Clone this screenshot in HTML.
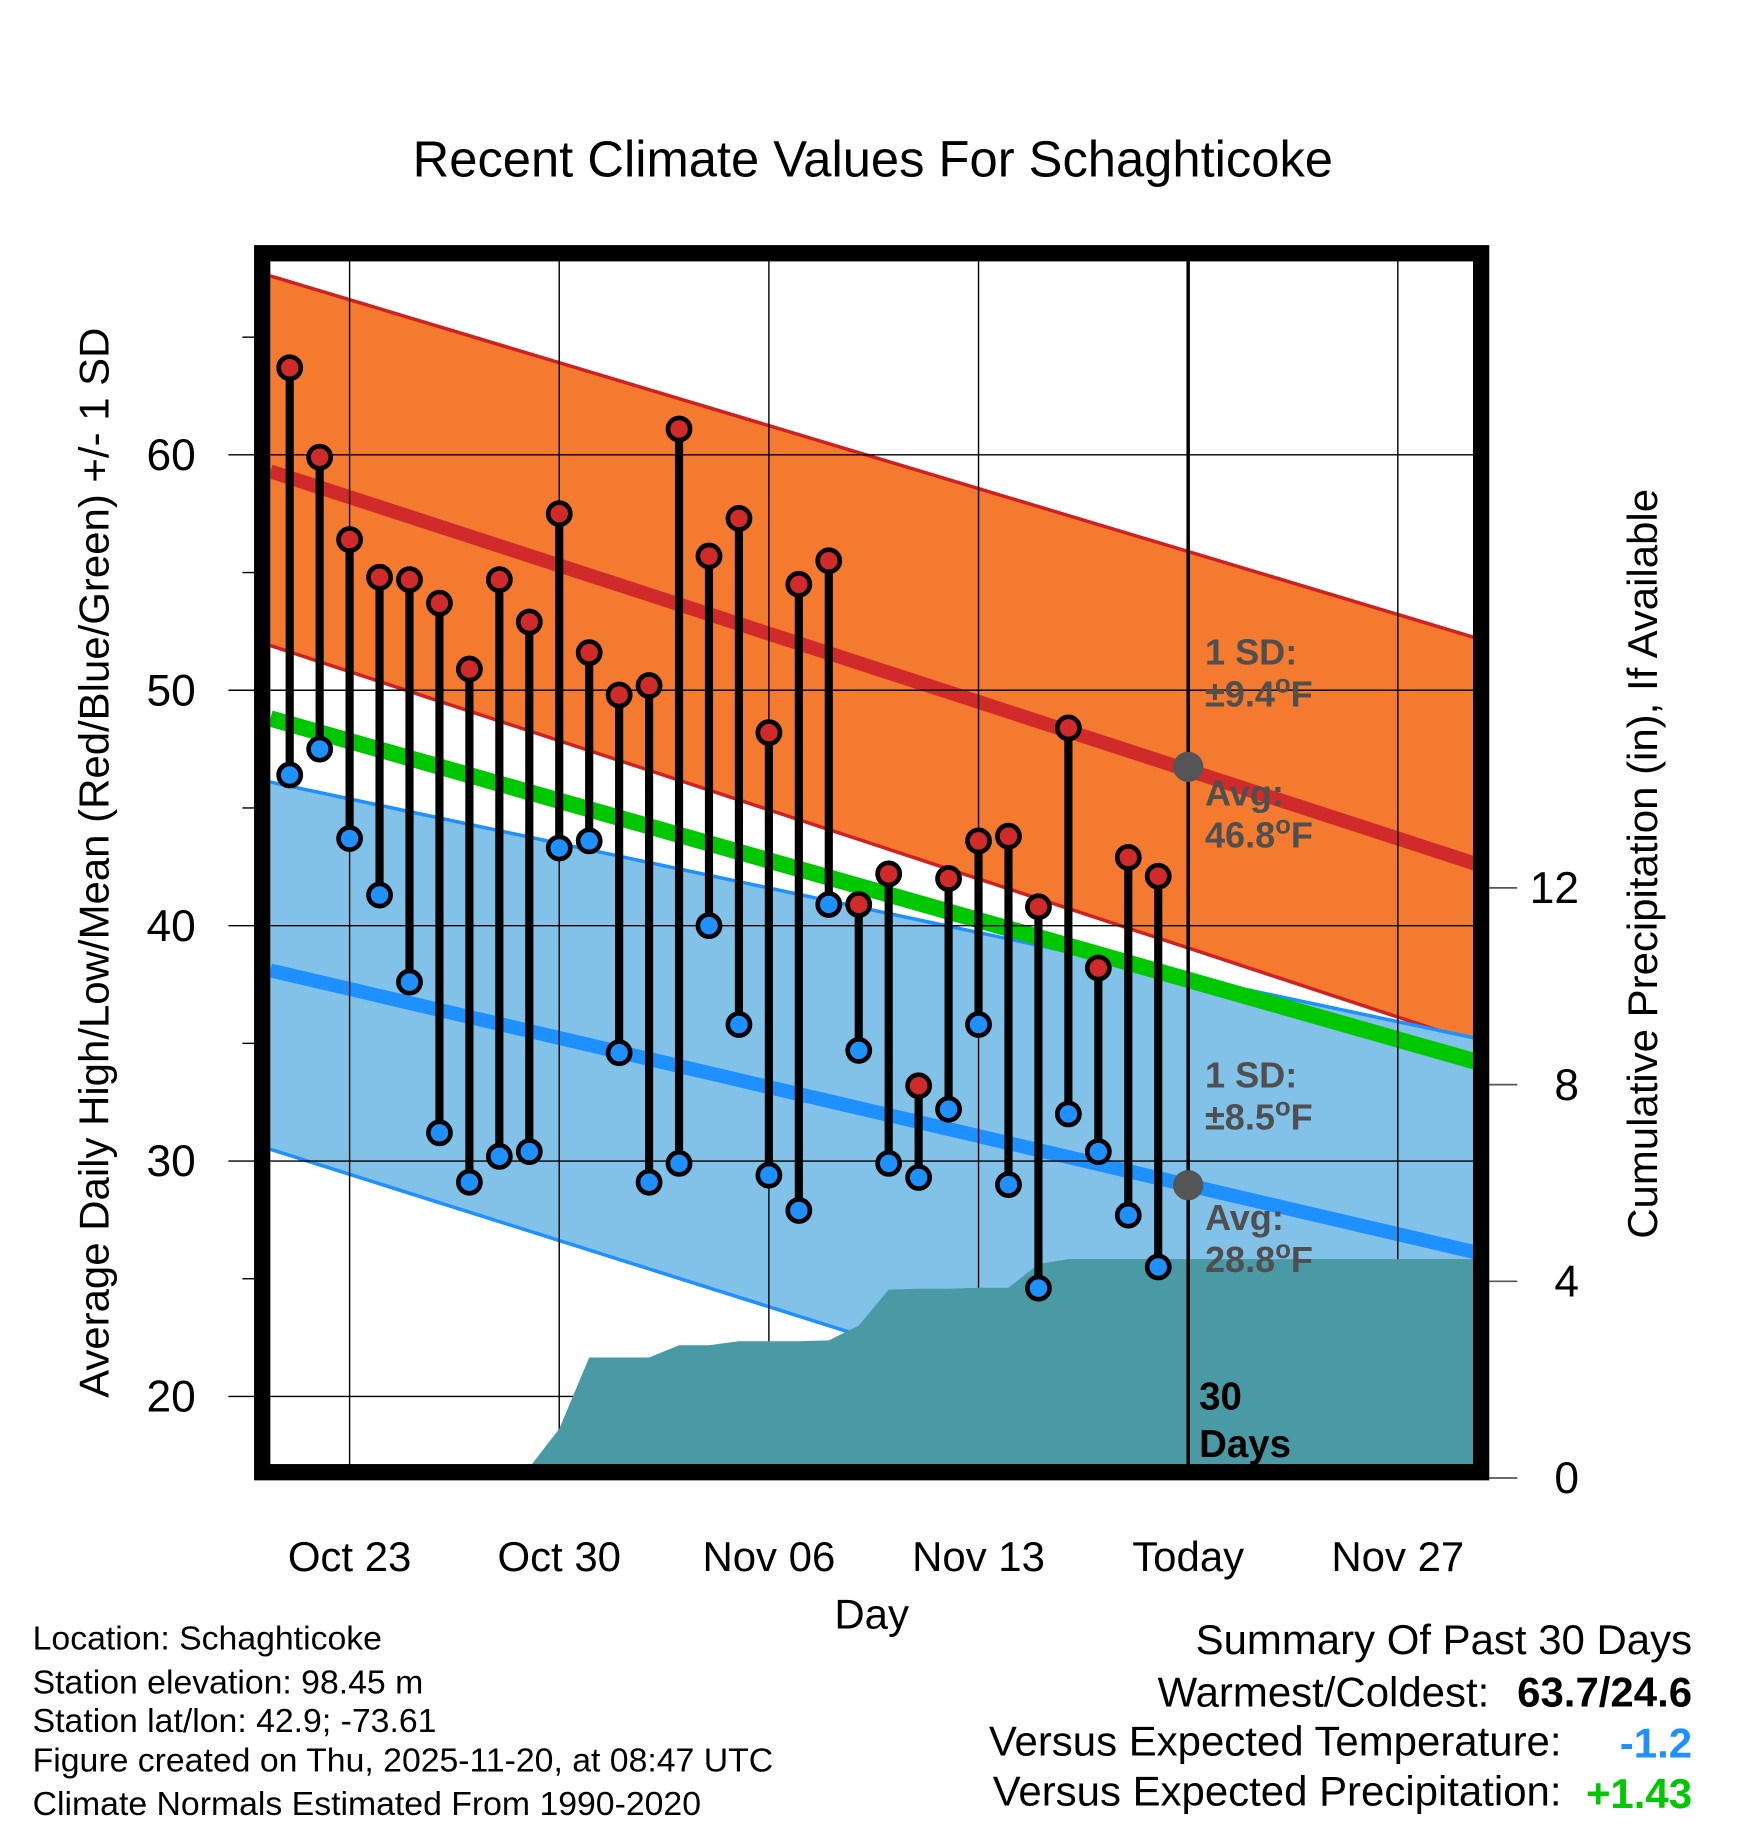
<!DOCTYPE html>
<html><head><meta charset="utf-8"><style>
html,body{margin:0;padding:0;background:#fff}
svg{display:block}
text{font-family:"Liberation Sans",Arial,sans-serif}
</style></head><body>
<svg id="chart" width="1748" height="1828" viewBox="0 0 1500 1568" xmlns="http://www.w3.org/2000/svg">
<defs><clipPath id="plotclip"><rect x="232" y="224" width="1036" height="1036"/></clipPath></defs>
<text x="749" y="151" font-size="43.5" text-anchor="middle">Recent Climate Values For Schaghticoke</text>
<g id="grid"></g>
<g id="plot" clip-path="url(#plotclip)"></g>
<rect x="225" y="217" width="1046" height="1046" fill="none" stroke="#000" stroke-width="14"/>
<g id="axes"></g>
<text transform="translate(93,740) rotate(-90)" font-size="36" text-anchor="middle">Average Daily High/Low/Mean (Red/Blue/Green) +/- 1 SD</text>
<text transform="translate(1422,741) rotate(-90)" font-size="36" text-anchor="middle">Cumulative Precipitation (in), If Available</text>
<text x="748" y="1397" font-size="36" text-anchor="middle">Day</text>
<g font-size="29">
<text x="28" y="1415">Location: Schaghticoke</text>
<text x="28" y="1453">Station elevation: 98.45 m</text>
<text x="28" y="1486">Station lat/lon: 42.9; -73.61</text>
<text x="28" y="1520">Figure created on Thu, 2025-11-20, at 08:47 UTC</text>
<text x="28" y="1557">Climate Normals Estimated From 1990-2020</text>
</g>
<g font-size="36">
<text x="1452" y="1419" text-anchor="end">Summary Of Past 30 Days</text>
<text x="1278" y="1464" text-anchor="end">Warmest/Coldest:</text>
<text x="1452" y="1464" text-anchor="end" font-weight="bold">63.7/24.6</text>
<text x="1340" y="1506" text-anchor="end">Versus Expected Temperature:</text>
<text x="1452" y="1508" text-anchor="end" font-weight="bold" fill="#1e90ff">-1.2</text>
<text x="1340" y="1549" text-anchor="end">Versus Expected Precipitation:</text>
<text x="1452" y="1551" text-anchor="end" font-weight="bold" fill="#00c800">+1.43</text>
</g>
</svg>
<script>
const days = [-2,-1,0,1,2,3,4,5,6,7,8,9,10,11,12,13,14,15,16,17,18,19,20,21,22,23,24,25,26,27];
const highs = [63.7,59.9,56.4,54.8,54.7,53.7,50.9,54.7,52.9,57.5,51.6,49.8,50.2,61.1,55.7,57.3,48.2,54.5,55.5,40.9,42.2,33.2,42.0,43.6,43.8,40.8,48.4,38.2,42.9,42.1];
const lows = [46.4,47.5,43.7,41.3,37.6,31.2,29.1,30.2,30.4,43.3,43.6,34.6,29.1,29.9,40.0,35.8,29.4,27.9,40.9,34.7,29.9,29.3,32.2,35.8,29.0,24.6,32.0,30.4,27.7,25.5];
const precip = [0,0.02,0.03,0.03,0.03,0.03,0.03,0.03,0.03,1.0,2.45,2.45,2.45,2.7,2.7,2.78,2.78,2.78,2.8,3.1,3.83,3.85,3.85,3.87,3.87,4.35,4.45,4.45,4.45,4.45];
const hiAvg = [59.3,42.6], hiUp = [67.6,52.2], hiLo = [51.9,35.0];
const meanAvg = [48.8,34.2];
const loAvg = [38.1,26.1], loUp = [46.1,35.2], loLo = [30.5,14.3];
const xTickDays = [0,7,14,21,28,35];
const xTickLabels = ["Oct 23","Oct 30","Nov 06","Nov 13","Today","Nov 27"];
const yTicks = [20,30,40,50,60];
const y2Ticks = [0,4,8,12];
const todayDay = 28;

const NS="http://www.w3.org/2000/svg";
const X0=232,X1=1268,D0=-2.65,D1=37.65;
const xs=d=>300+(d)*25.7;
const ys=v=>390+(60-v)*20.2;
const yp=p=>1268-p*42.2;
function mk(tag,attrs,parent){const e=document.createElementNS(NS,tag);for(const k in attrs)e.setAttribute(k,attrs[k]);parent.appendChild(e);return e;}
const plot=document.getElementById('plot'),axes=document.getElementById('axes'),svg=document.getElementById('chart');

function band(up,lo,fill,name){
  const p=`${X0},${ys(up[0])} ${X1},${ys(up[1])} ${X1},${ys(lo[1])} ${X0},${ys(lo[0])}`;
  const e=mk('polygon',{points:p,fill:fill},plot);
  
  
}
function line(v,color,w,name){
  const e=mk('line',{x1:X0,y1:ys(v[0]),x2:X1,y2:ys(v[1]),stroke:color,'stroke-width':w},plot);
  
  
}
band(hiUp,hiLo,'#f47a30','high-sd-band');
line(hiUp,'#d02020',3,'high-sd-upper');
line(hiLo,'#d02020',3,'high-sd-lower');
band(loUp,loLo,'#82c1e8','low-sd-band');
line(loUp,'#1e90ff',3,'low-sd-upper');
line(loLo,'#1e90ff',3,'low-sd-lower');
line(hiAvg,'#d02a2a',12,'high-average-line');
line(loAvg,'#1e90ff',12,'low-average-line');
line(meanAvg,'#00c800',14,'mean-average-line');

xTickDays.forEach(d=>{const e=mk('line',{x1:xs(d),y1:186,x2:xs(d),y2:1295,stroke:'#000','stroke-width':1.2},plot);
  });
yTicks.forEach(v=>{const e=mk('line',{x1:X0,y1:ys(v),x2:X1,y2:ys(v),stroke:'#000','stroke-width':1.2},plot);
  });

let pts=`${X0},${yp(0)-8} `;
days.forEach((d,i)=>{pts+=`${xs(d)},${Math.min(yp(precip[i]),1259)} `;});
pts+=`${X1},${yp(precip[precip.length-1])} ${X1},${yp(0)}`;
const pa=mk('polygon',{points:pts,fill:'#4a9aa5'},plot);



const tl=mk('line',{x1:xs(todayDay),y1:224,x2:xs(todayDay),y2:1260,stroke:'#000','stroke-width':3},plot);


const frac=(todayDay-D0)/(D1-D0);
const hd=mk('circle',{cx:xs(todayDay),cy:ys(hiAvg[0]+(hiAvg[1]-hiAvg[0])*frac)-3,r:13,fill:'#555'},plot);

const ld=mk('circle',{cx:xs(todayDay),cy:ys(loAvg[0]+(loAvg[1]-loAvg[0])*frac),r:13,fill:'#555'},plot);


days.forEach((d,i)=>{
  const g=mk('g',{},plot);
  
  
  mk('line',{x1:xs(d),y1:ys(highs[i]),x2:xs(d),y2:ys(lows[i]),stroke:'#000','stroke-width':7},g);
  const h=mk('circle',{cx:xs(d),cy:ys(highs[i]),r:9.5,fill:'#d02a2a',stroke:'#000','stroke-width':4},g);
  
  const l=mk('circle',{cx:xs(d),cy:ys(lows[i]),r:9.5,fill:'#1e90ff',stroke:'#000','stroke-width':4},g);
  
});

const ann=[["1 SD:",570,""],["±9.4",606,"F"],["Avg:",691,""],["46.8",727,"F"],["1 SD:",933,""],["±8.5",969,"F"],["Avg:",1055,""],["28.8",1091,"F"]];
ann.forEach(a=>{const t=mk('text',{x:1034,y:a[1],'font-size':31,'font-weight':'bold',fill:'#4f4f4f'},svg);
  
  t.appendChild(document.createTextNode(a[0]));
  if(a[2]){const s=mk('tspan',{dy:-12,'font-size':22},t);s.textContent='o';const f=mk('tspan',{dy:12},t);f.textContent='F';}
});
[["30",1209],["Days",1250]].forEach(a=>{const t=mk('text',{x:1029,y:a[1],'font-size':33,'font-weight':'bold',fill:'#000'},svg);t.textContent=a[0];
  });

xTickDays.forEach((d,i)=>{const t=mk('text',{x:xs(d),y:1348,'font-size':36,'text-anchor':'middle'},axes);t.textContent=xTickLabels[i];
  });
yTicks.forEach(v=>{const t=mk('text',{x:168,y:ys(v)+13,'font-size':38,'text-anchor':'end'},axes);t.textContent=v;
  
  mk('line',{x1:196,y1:ys(v),x2:218,y2:ys(v),stroke:'#000','stroke-width':1.2},axes);});
[25,35,45,55,65].forEach(v=>mk('line',{x1:208,y1:ys(v),x2:218,y2:ys(v),stroke:'#000','stroke-width':1.2},axes));
y2Ticks.forEach(p=>{const t=mk('text',{x:1355,y:yp(p)+13,'font-size':38,'text-anchor':'end'},axes);t.textContent=p;
  
  mk('line',{x1:1278,y1:yp(p),x2:1302,y2:yp(p),stroke:'#555','stroke-width':1.5},axes);});
</script>
</body></html>
